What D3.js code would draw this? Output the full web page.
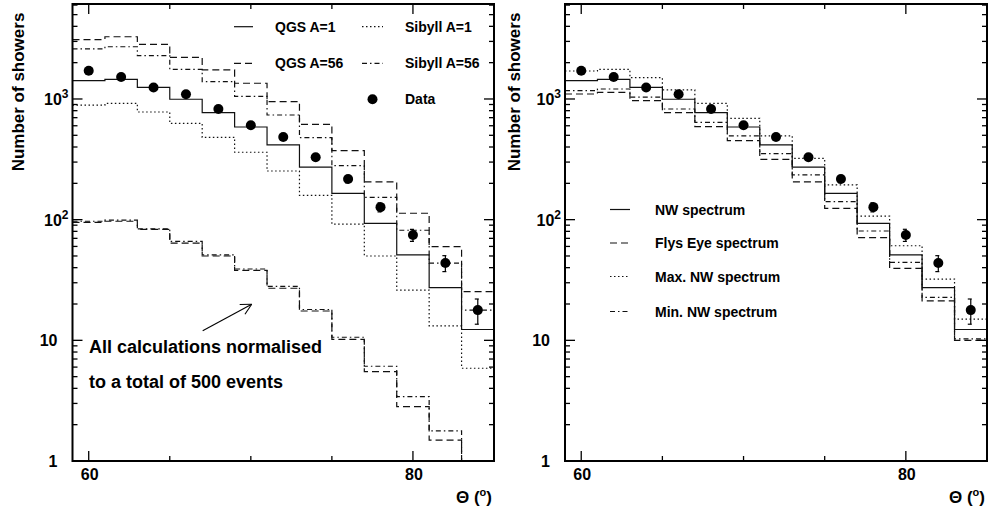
<!DOCTYPE html>
<html><head><meta charset="utf-8">
<script src="https://cdn.jsdelivr.net/npm/d3@7"></script>
<style>
html,body{margin:0;padding:0;background:#fff;}
text{font-family:"Liberation Sans",Arial,sans-serif;font-weight:bold;fill:#000;}
</style></head>
<body>
<svg id="chart" width="989" height="512"></svg>
<script>
// ---- data ----
const thetaEdges = [59,61,63,65,67,69,71,73,75,77,79,81,83,85];
const thetaCenters = [60,62,64,66,68,70,72,74,76,78,80,82,84];
const dataCounts = [1715,1521,1245,1094,826,605,484,329,217,127,74.6,43.7,17.8];
const dataErr = [41,39,35,33,29,25,22,18,15,11,8.6,6.6,4.2];

// left panel series
const qgsA1 = [1418,1455,1250,995,770,586,416,272,165,93,51,27.3,12.3];
const qgsA56 = [3100,3280,2840,2215,1740,1350,950,617,373,206,113,59.7,25.3];
const sibyllA1 = [891,920,780,629,481,362,253,159,92,50,26.1,13.2,5.87];
const sibyllA56 = [2600,2710,2285,1762,1390,1052,737,478,280,153,81.7,43.7,17.8];
const lowerDashed = [95,97,83,64,50,38,27,17.5,10.2,5.5,2.82,1.49,0.5];
const lowerDashDot = [97,99,84,66,51,39,28,18,10.6,6.1,3.41,1.78,0.5];

// right panel series
const nwSpectrum = [1418,1455,1250,995,770,586,416,272,165,93,51,27.3,12.3];
const flysEye = [1100,1135,968,770,589,451,316,206,124,71,39.5,21.2,10.0];
const maxNW = [1706,1762,1502,1188,920,692,494,322,194,107,60.8,32.2,15.0];
const minNW = [1171,1210,1038,826,641,494,352,235,141,80.5,44.3,22.7,10.3];

// axis ticks
const xTicksMajor = [60,80];
const xTicksMinor = [65,70,75];
const yTicksMajor = [1,10,100,1000];
const yTickLabels = [["1",""],["10",""],["10","2"],["10","3"]];
const yMinorMult = [2,3,4,5,6,7,8,9];

const leftLegend = [
  {label:"QGS A=1", style:"solid", col:0, row:0},
  {label:"Sibyll A=1", style:"dotted", col:1, row:0},
  {label:"QGS A=56", style:"dashed", col:0, row:1},
  {label:"Sibyll A=56", style:"dashdot", col:1, row:1},
  {label:"Data", style:"marker", col:1, row:2}
];
const rightLegend = [
  {label:"NW spectrum", style:"solid"},
  {label:"Flys Eye spectrum", style:"dashed"},
  {label:"Max. NW spectrum", style:"dotted"},
  {label:"Min. NW spectrum", style:"dashdot"}
];

// ---- drawing ----
const svg = d3.select("#chart");
const dashes = {solid:null, dashed:"7,4", dotted:"1.5,2.5", dashdot:"5,3,1.5,3"};
const yTop = 4, yBot = 461;
const yScale = d3.scaleLog().domain([1, 6125]).range([yBot, yTop]);

function panel(id, x0, x1, series, legendFn, titleX) {
  const x = d3.scaleLinear().domain([59,85]).range([x0,x1]);
  const g = svg.append("g");
  g.append("clipPath").attr("id","clip"+id).append("rect")
    .attr("x",x0).attr("y",yTop).attr("width",x1-x0).attr("height",yBot-yTop);

  const line = d3.line().x(d=>x(d[0])).y(d=>yScale(d[1])).curve(d3.curveStepAfter);
  const sg = g.append("g").attr("clip-path","url(#clip"+id+")");
  series.forEach(s=>{
    const pts = s.values.map((v,i)=>[thetaEdges[i], v]);
    pts.push([thetaEdges[thetaEdges.length-1], s.values[s.values.length-1]]);
    sg.append("path").attr("d", line(pts)).attr("fill","none")
      .attr("stroke","#111").attr("stroke-width",1.2)
      .attr("stroke-dasharray", dashes[s.style]);
  });
  // data points
  thetaCenters.forEach((t,i)=>{
    const cx = x(t), v = dataCounts[i], e = dataErr[i];
    const ya = yScale(v+e), yb = yScale(v-e);
    sg.append("line").attr("x1",cx).attr("x2",cx).attr("y1",ya).attr("y2",yb)
      .attr("stroke","#000").attr("stroke-width",1.2);
    [ya,yb].forEach(yy=>sg.append("line").attr("x1",cx-3).attr("x2",cx+1).attr("y1",yy).attr("y2",yy)
      .attr("stroke","#000").attr("stroke-width",1.2));
    sg.append("circle").attr("cx",cx).attr("cy",yScale(v)).attr("r",5).attr("fill","#000");
  });

  // frame
  g.append("rect").attr("x",x0).attr("y",yTop).attr("width",x1-x0).attr("height",yBot-yTop)
    .attr("fill","none").attr("stroke","#000").attr("stroke-width",2);

  // x ticks
  const tk = (xx, len)=>{
    g.append("line").attr("x1",xx).attr("x2",xx).attr("y1",yBot).attr("y2",yBot-len).attr("stroke","#000").attr("stroke-width",1.3);
    g.append("line").attr("x1",xx).attr("x2",xx).attr("y1",yTop).attr("y2",yTop+len).attr("stroke","#000").attr("stroke-width",1.3);
  };
  xTicksMajor.forEach(t=>tk(x(t),10));
  xTicksMinor.forEach(t=>tk(x(t),5));
  xTicksMajor.forEach(t=>g.append("text").attr("x",x(t)+1).attr("y",480)
    .attr("text-anchor","middle").attr("font-size",16).text(t));

  // y ticks
  const ytk = (yy,len)=>{
    g.append("line").attr("x1",x0).attr("x2",x0+len).attr("y1",yy).attr("y2",yy).attr("stroke","#000").attr("stroke-width",1.3);
    g.append("line").attr("x1",x1).attr("x2",x1-len).attr("y1",yy).attr("y2",yy).attr("stroke","#000").attr("stroke-width",1.3);
  };
  yTicksMajor.forEach(v=>{
    ytk(yScale(v),10);
    yMinorMult.forEach(m=>{ const vv=v*m; if (vv<yScale.domain()[1]) ytk(yScale(vv),5); });
  });
  yTicksMajor.forEach((v,i)=>{
    const [base,sup] = yTickLabels[i];
    const t = g.append("text").attr("x", x0 - (sup? 4 : 15)).attr("y",yScale(v)+6)
      .attr("text-anchor","end").attr("font-size",16);
    t.append("tspan").text(base);
    if (sup) t.append("tspan").attr("font-size",12).attr("dy",-7).text(sup);
  });

  // axis titles
  g.append("text").attr("transform",`translate(${titleX},92) rotate(-90)`)
    .attr("text-anchor","middle").attr("font-size",17).text("Number of showers");
  const xt = g.append("text").attr("x",x1-2).attr("y",503).attr("text-anchor","end").attr("font-size",17);
  xt.append("tspan").text("Θ (");
  xt.append("tspan").attr("font-size",11).attr("dy",-7).text("o");
  xt.append("tspan").attr("dy",7).text(")");

  legendFn(g);
  return x;
}

function legendSample(g, style, xa, xb, yy) {
  if (style==="marker") {
    g.append("circle").attr("cx",(xa+xb)/2).attr("cy",yy).attr("r",5).attr("fill","#000");
  } else {
    g.append("line").attr("x1",xa).attr("x2",xb).attr("y1",yy).attr("y2",yy)
      .attr("stroke","#111").attr("stroke-width",1.2).attr("stroke-dasharray",dashes[style]);
  }
}

const xL = panel("L", 72.5, 494, [
  {values:qgsA1, style:"solid"},
  {values:qgsA56, style:"dashed"},
  {values:sibyllA1, style:"dotted"},
  {values:sibyllA56, style:"dashdot"},
  {values:lowerDashed, style:"dashed"},
  {values:lowerDashDot, style:"dashdot"}
], g=>{
  const colLine=[[234,253],[362,383]], colText=[275,405], rowY=[26.7,63.3,99.3];
  leftLegend.forEach(d=>{
    legendSample(g, d.style, colLine[d.col][0], colLine[d.col][1], rowY[d.row]);
    g.append("text").attr("x",colText[d.col]).attr("y",rowY[d.row]+5).attr("font-size",14).text(d.label);
  });
  // annotation
  g.append("text").attr("x",89).attr("y",353).attr("font-size",18).text("All calculations normalised");
  g.append("text").attr("x",89).attr("y",388).attr("font-size",18).text("to a total of 500 events");
  const ax0=202.7, ay0=330.7, ax1=251.7, ay1=304.3;
  g.append("line").attr("x1",ax0).attr("y1",ay0).attr("x2",ax1).attr("y2",ay1).attr("stroke","#000").attr("stroke-width",1.1);
  const ang = Math.atan2(ay0-ay1, ax0-ax1);
  [-0.48,0.48].forEach(da=>{
    g.append("line").attr("x1",ax1).attr("y1",ay1)
      .attr("x2",ax1+12*Math.cos(ang+da)).attr("y2",ay1+12*Math.sin(ang+da))
      .attr("stroke","#000").attr("stroke-width",1.1);
  });
}, 24);

const xR = panel("R", 565, 987, [
  {values:nwSpectrum, style:"solid"},
  {values:flysEye, style:"dashed"},
  {values:maxNW, style:"dotted"},
  {values:minNW, style:"dashdot"}
], g=>{
  const rowY=[209.5,243,276.5,311.5];
  rightLegend.forEach((d,i)=>{
    legendSample(g, d.style, 610, 630, rowY[i]);
    g.append("text").attr("x",655).attr("y",rowY[i]+5).attr("font-size",14).text(d.label);
  });
}, 520);
</script>
</body></html>
